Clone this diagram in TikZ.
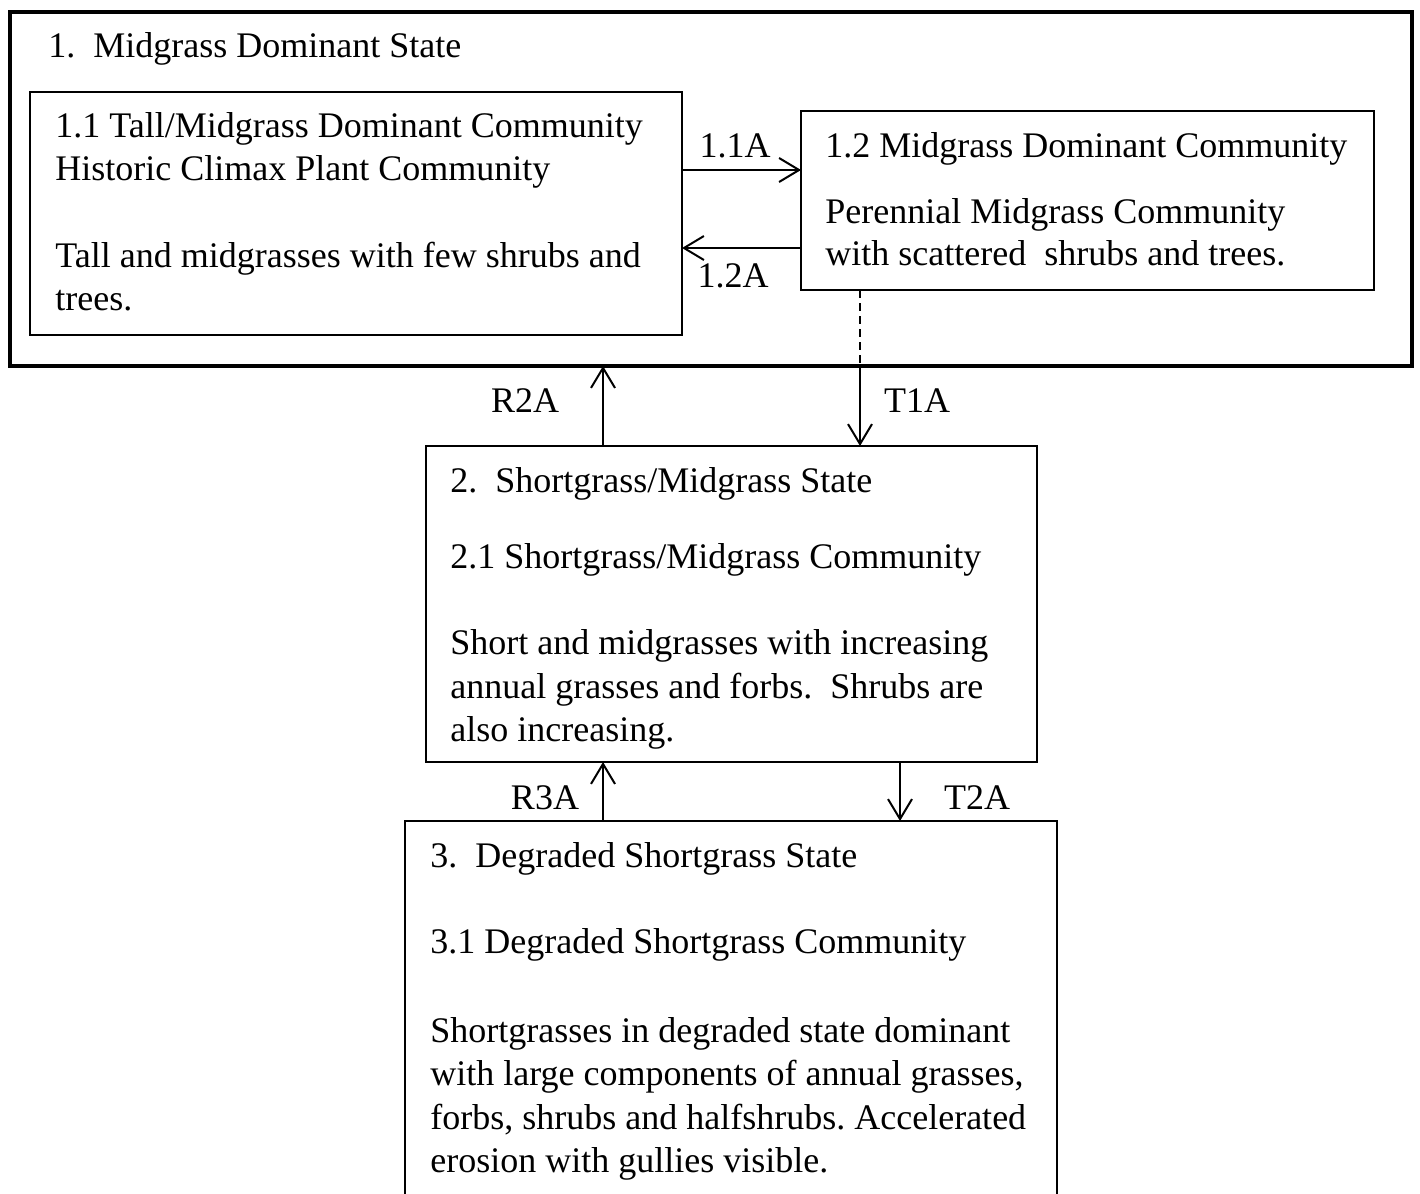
\documentclass[tikz,border=0pt]{standalone}
\usepackage{fontspec}
\setmainfont{Liberation Serif}
\usetikzlibrary{arrows.meta}
\frenchspacing
\begin{document}
\begin{tikzpicture}[x=0.5pt,y=-0.5pt,
  txt/.style={anchor=base west,inner sep=0pt,font=\fontsize{18}{21}\selectfont},
  lbl/.style={anchor=base,inner sep=0pt,font=\fontsize{18}{21}\selectfont},
  boxline/.style={line width=1pt},
  conn/.style={line width=1pt,-{Straight Barb[length=10pt,width=12pt,line width=1pt]}},
  dashconn/.style={line width=1pt,dash pattern=on 4pt off 2.5pt}]
\useasboundingbox (0,0) rectangle (1420,1194);
\fill[white] (0,0) rectangle (1420,1194);
% outer state 1 box
\draw[line width=2pt] (10,12) rectangle (1412,366);
\node[txt] (s1) at (48,57) {1.\ \ Midgrass Dominant State};
% box 1.1
\draw[boxline] (30,92) rectangle (682,335);
\coordinate (b11a) at (682,170);
\coordinate (b11b) at (682,248);
\node[txt] (t11a) at (55,137) {1.1 Tall/Midgrass Dominant Community};
\node[txt] (t11b) at (55,180) {Historic Climax Plant Community};
\node[txt] (t11c) at (55,267) {Tall and midgrasses with few shrubs and};
\node[txt] (t11d) at (55,310) {trees.};
% box 1.2
\draw[boxline] (801,111) rectangle (1374,290);
\coordinate (b12a) at (801,170);
\coordinate (b12b) at (801,248);
\coordinate (b12c) at (860,290);
\node[txt] (t12a) at (825,157) {1.2 Midgrass Dominant Community};
\node[txt] (t12b) at (825,223) {Perennial Midgrass Community};
\node[txt] (t12c) at (825,265) {with scattered\ \ shrubs and trees.};
% outer bottom points
\coordinate (o1) at (860,366);
\coordinate (o2) at (603,366);
% box 2
\draw[boxline] (426,446) rectangle (1037,762);
\coordinate (b2t1) at (860,446);
\coordinate (b2t2) at (603,446);
\coordinate (b2b1) at (603,762);
\coordinate (b2b2) at (900,762);
\node[txt] (t2a) at (450,492) {2.\ \ Shortgrass/Midgrass State};
\node[txt] (t2b) at (450,568) {2.1 Shortgrass/Midgrass Community};
\node[txt] (t2c) at (450,654) {Short and midgrasses with increasing};
\node[txt] (t2d) at (450,698) {annual grasses and forbs.\ \ Shrubs are};
\node[txt] (t2e) at (450,741) {also increasing.};
% box 3 (bottom edge outside the picture)
\draw[boxline] (405,1200) -- (405,821) -- (1057,821) -- (1057,1200);
\coordinate (b3t1) at (603,821);
\coordinate (b3t2) at (900,821);
\node[txt] (t3a) at (430,867) {3.\ \ Degraded Shortgrass State};
\node[txt] (t3b) at (430,953) {3.1 Degraded Shortgrass Community};
\node[txt] (t3c) at (430,1042) {Shortgrasses in degraded state dominant};
\node[txt] (t3d) at (430,1085) {with large components of annual grasses,};
\node[txt] (t3e) at (430,1129) {forbs, shrubs and halfshrubs. Accelerated};
\node[txt] (t3f) at (430,1172) {erosion with gullies visible.};
% connectors
\draw[conn] (b11a) -- (b12a);
\draw[conn] (b12b) -- (b11b);
\draw[dashconn] (b12c) -- (o1);
\draw[conn] (o1) -- (b2t1);
\draw[conn] (b2t2) -- (o2);
\draw[conn] (b3t1) -- (b2b1);
\draw[conn] (b2b2) -- (b3t2);
% labels
\node[lbl] (l11a) at (735,157) {1.1A};
\node[lbl] (l12a) at (733,287) {1.2A};
\node[lbl] (lt1a) at (917,412) {T1A};
\node[lbl] (lr2a) at (525,412) {R2A};
\node[lbl] (lr3a) at (545,809) {R3A};
\node[lbl] (lt2a) at (977,809) {T2A};
\end{tikzpicture}
\end{document}
